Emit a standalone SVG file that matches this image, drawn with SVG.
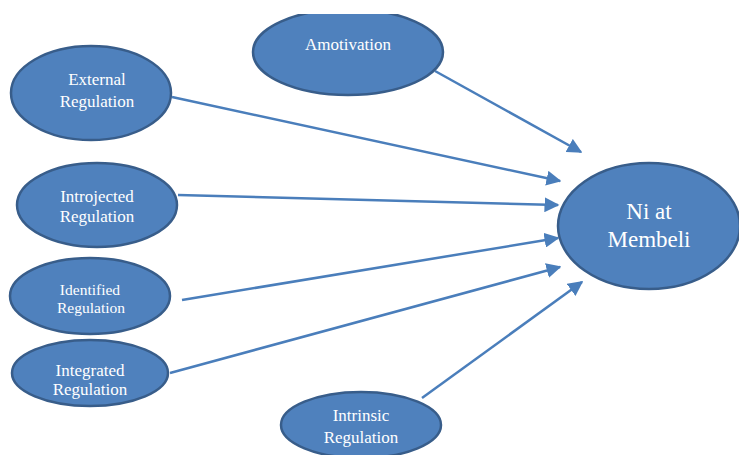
<svg xmlns="http://www.w3.org/2000/svg" width="739" height="455" viewBox="0 0 739 455">
<style>
.node{fill:#4F81BD;stroke:#385D8A;stroke-width:2.5}
.lbl{fill:#ffffff;font-family:"Liberation Serif","Times New Roman",serif;font-size:17px;text-anchor:middle}
.big{font-size:23px}
.sm{font-size:15.5px}
.edge{stroke:#4A7EBB;stroke-width:2.5;fill:none;marker-end:url(#ah)}
</style>
<defs>
<marker id="ah" viewBox="0 0 10 10" refX="9" refY="5" markerWidth="6" markerHeight="6" orient="auto" markerUnits="strokeWidth">
<path d="M0,0 L10,5 L0,10 z" fill="#4A7EBB"/>
</marker>
<clipPath id="topclip"><rect x="0" y="14" width="739" height="441"/></clipPath>
</defs>
<rect width="739" height="455" fill="#ffffff"/>
<g id="connectors">
<line class="edge" x1="435" y1="71" x2="581" y2="152"/>
<line class="edge" x1="172" y1="97" x2="560" y2="181"/>
<line class="edge" x1="178" y1="195" x2="558" y2="205"/>
<line class="edge" x1="182" y1="300" x2="558" y2="238"/>
<line class="edge" x1="170" y1="373" x2="560" y2="267"/>
<line class="edge" x1="422" y1="398" x2="582" y2="282"/>
</g>
<g id="amotivation" clip-path="url(#topclip)">
<ellipse class="node" cx="348" cy="52" rx="95" ry="43"/>
<text class="lbl" x="348" y="50">Amotivation</text>
</g>
<g id="external">
<ellipse class="node" cx="91" cy="93" rx="80" ry="47"/>
<text class="lbl" x="97" y="85">External</text>
<text class="lbl" x="97" y="107">Regulation</text>
</g>
<g id="introjected">
<ellipse class="node" cx="97" cy="205" rx="80" ry="42"/>
<text class="lbl" x="97" y="202">Introjected</text>
<text class="lbl" x="97" y="222">Regulation</text>
</g>
<g id="identified">
<ellipse class="node" cx="90" cy="296" rx="80" ry="38"/>
<text class="lbl sm" x="90" y="295">Identified</text>
<text class="lbl sm" x="91" y="313">Regulation</text>
</g>
<g id="integrated">
<ellipse class="node" cx="90" cy="373" rx="78" ry="33"/>
<text class="lbl" x="90" y="376">Integrated</text>
<text class="lbl" x="90" y="395">Regulation</text>
</g>
<g id="intrinsic">
<ellipse class="node" cx="361" cy="425" rx="80" ry="33"/>
<text class="lbl" x="361" y="421">Intrinsic</text>
<text class="lbl" x="361" y="443">Regulation</text>
</g>
<g id="niat">
<ellipse class="node" cx="649" cy="226" rx="91" ry="63"/>
<text class="lbl big" x="649" y="219">Ni at</text>
<text class="lbl big" x="649" y="247">Membeli</text>
</g>
</svg>
